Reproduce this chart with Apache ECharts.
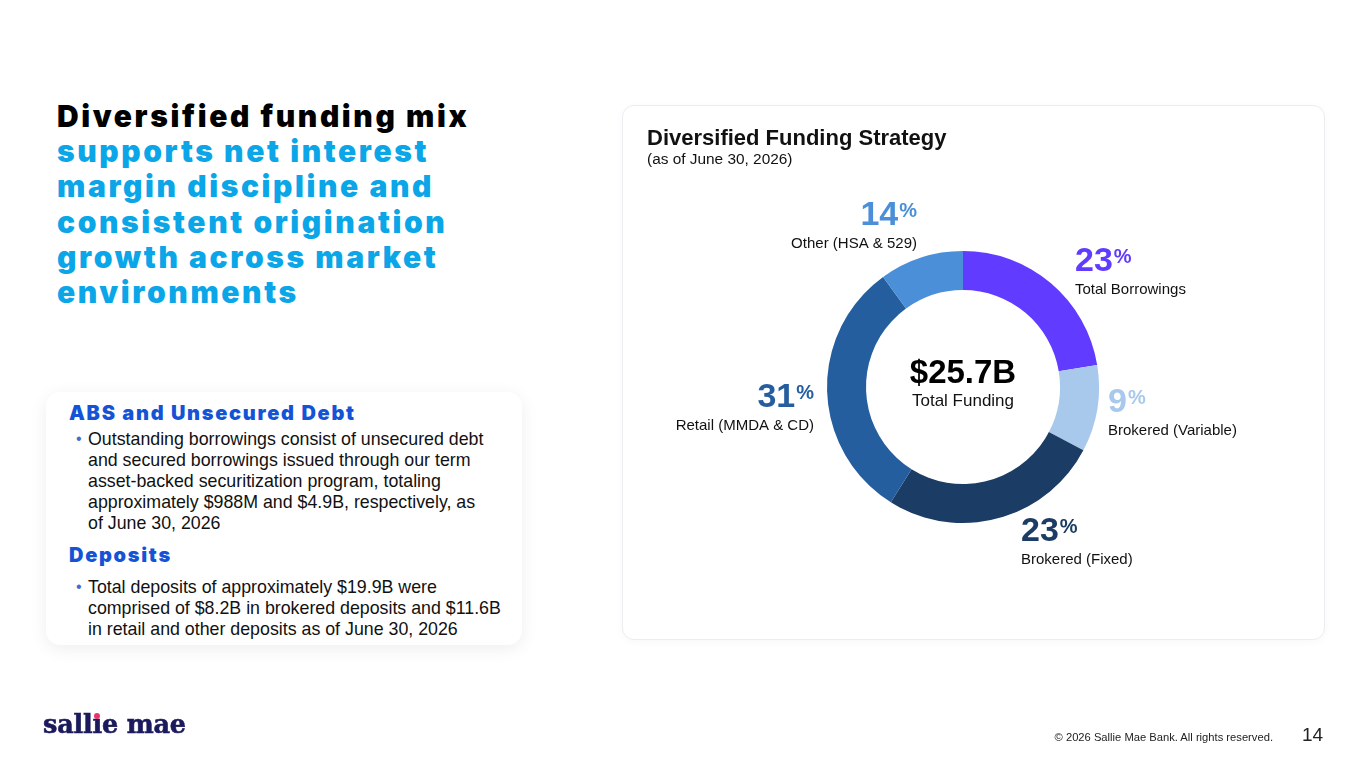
<!DOCTYPE html>
<html>
<head>
<meta charset="utf-8">
<script src="https://cdn.jsdelivr.net/npm/echarts@6/dist/echarts.min.js"></script>
<style>
  html, body { margin: 0; padding: 0; background: #fff; }
  body { width: 1365px; height: 768px; position: relative; overflow: hidden; font-family: "Liberation Sans", Arial, sans-serif; }
  .headline { position: absolute; left: 57px; top: 99px; font-family: Inter, "Liberation Sans", sans-serif; font-weight: 900; font-size: 30px; line-height: 35.2px; color: #0aa6e8; letter-spacing: 2.6px; }
  .headline b { color: #000; font-weight: 900; }
  .box { position: absolute; left: 46px; top: 392px; width: 476px; height: 253px; background: #fff; border-radius: 14px; box-shadow: 0 4px 18px rgba(0,0,0,0.07); }
  .box h3 { margin: 0; position: absolute; left: 23px; font-family: Inter, "Liberation Sans", sans-serif; font-weight: 900; font-size: 20px; letter-spacing: 1.7px; color: #1553d6; }
  .box p { margin: 0; position: absolute; left: 42px; width: 440px; font-size: 17.8px; line-height: 21px; color: #111; white-space: nowrap; }
  .box p:before { content: "\2022"; position: absolute; left: -12px; top: -1px; font-size: 16px; color: #3d6fd0; }
  .card { position: absolute; left: 622px; top: 105px; width: 701px; height: 533px; border: 1px solid #ebedf0; border-radius: 12px; background: #fff; box-shadow: 0 2px 10px rgba(0,0,0,0.03); }
  #main { position: absolute; left: 0; top: 0; width: 1365px; height: 768px; }
  .logo { position: absolute; left: 43px; top: 709px; font-family: "DejaVu Serif", serif; font-weight: bold; font-size: 25.5px; color: #1b1a5c; letter-spacing: -0.2px; -webkit-text-stroke: 0.6px #1b1a5c; }
  .logo .i { position: relative; }
  .logo .dot { position: absolute; left: 50%; top: 4px; width: 6px; height: 6px; margin-left: -3px; border-radius: 50%; background: #e8336b; }
  .copy { position: absolute; right: 92px; top: 731px; font-size: 11.2px; color: #222; }
  .page { position: absolute; left: 1302px; top: 724px; font-size: 19px; color: #222; }
</style>
</head>
<body>
<div class="headline"><b>Diversified funding mix</b><br>supports net interest<br>margin discipline and<br>consistent origination<br>growth across market<br>environments</div>

<div class="box">
  <h3 style="top:9px">ABS and Unsecured Debt</h3>
  <p style="top:37px">Outstanding borrowings consist of unsecured debt<br>and secured borrowings issued through our term<br>asset-backed securitization program, totaling<br>approximately $988M and $4.9B, respectively, as<br>of June 30, 2026</p>
  <h3 style="top:151px">Deposits</h3>
  <p style="top:185px">Total deposits of approximately $19.9B were<br>comprised of $8.2B in brokered deposits and $11.6B<br>in retail and other deposits as of June 30, 2026</p>
</div>

<div class="card"></div>
<div id="main"></div>

<div class="logo">sall<span class="i">ı<span class="dot"></span></span>e mae</div>
<div class="copy">© 2026 Sallie Mae Bank. All rights reserved.</div>
<div class="page">14</div>

<script type="text/javascript">
// segments as drawn, clockwise from 12 o'clock
var categories = ['Total Borrowings', 'Brokered (Variable)', 'Brokered (Fixed)', 'Retail (MMDA & CD)', 'Other (HSA & 529)'];
var sliceShares = [22.4, 10.3, 26.2, 31.1, 10.0];
var labelPcts = [23, 9, 23, 31, 14];
var colors = ['#613bff', '#a8c9ec', '#1b3c64', '#245e9e', '#4a8fd8'];
var totalText = '$25.7B';
var totalLabel = 'Total Funding';

// where each label block sits on the page
var labelSpots = [
    {x: 1075, y: 244, align: 'left'},
    {x: 1108, y: 385, align: 'left'},
    {x: 1021, y: 514, align: 'left'},
    {x: 814, y: 380, align: 'right'},
    {x: 917, y: 198, align: 'right'}
];

var myChart = echarts.init(document.getElementById('main'), null, {renderer: 'canvas'});

var labelEls = [];
categories.forEach(function (name, i) {
    var s = labelSpots[i];
    labelEls.push({
        type: 'text',
        x: s.x, y: s.y,
        style: {
            text: '{n|' + labelPcts[i] + '}{p|%}\n{c|' + name + '}',
            align: s.align,
            verticalAlign: 'top',
            rich: {
                n: {fontFamily: 'Liberation Sans', fontWeight: 'bold', fontSize: 34, fill: colors[i], lineHeight: 36},
                p: {fontFamily: 'Liberation Sans', fontWeight: 'bold', fontSize: 20, fill: colors[i], lineHeight: 20, padding: [2, 0, 12, 1]},
                c: {fontFamily: 'Liberation Sans', fontSize: 15, fill: '#111', lineHeight: 20, padding: [0, 0, 0, 0]}
            }
        }
    });
});

var option = {
    animation: false,
    graphic: [
        {type: 'text', x: 647, y: 128, style: {text: 'Diversified Funding Strategy', fontFamily: 'Liberation Sans', fontWeight: 'bold', fontSize: 22, fill: '#111'}},
        {type: 'text', x: 647, y: 152, style: {text: '(as of June 30, 2026)', fontFamily: 'Liberation Sans', fontSize: 15.4, fill: '#111'}},
        {type: 'text', x: 963, y: 374, style: {text: totalText, align: 'center', verticalAlign: 'middle', fontFamily: 'Liberation Sans', fontWeight: 'bold', fontSize: 33, fill: '#000'}},
        {type: 'text', x: 963, y: 401, style: {text: totalLabel, align: 'center', verticalAlign: 'middle', fontFamily: 'Liberation Sans', fontSize: 17, fill: '#111'}}
    ].concat(labelEls),
    series: [
        {
            type: 'pie',
            center: [963, 387],
            radius: [97, 136],
            startAngle: 90,
            clockwise: true,
            silent: true,
            label: {show: false},
            labelLine: {show: false},
            itemStyle: {borderWidth: 0},
            data: categories.map(function (name, i) {
                return {name: name, value: sliceShares[i], itemStyle: {color: colors[i]}};
            })
        }
    ]
};

myChart.setOption(option);
</script>
</body>
</html>
